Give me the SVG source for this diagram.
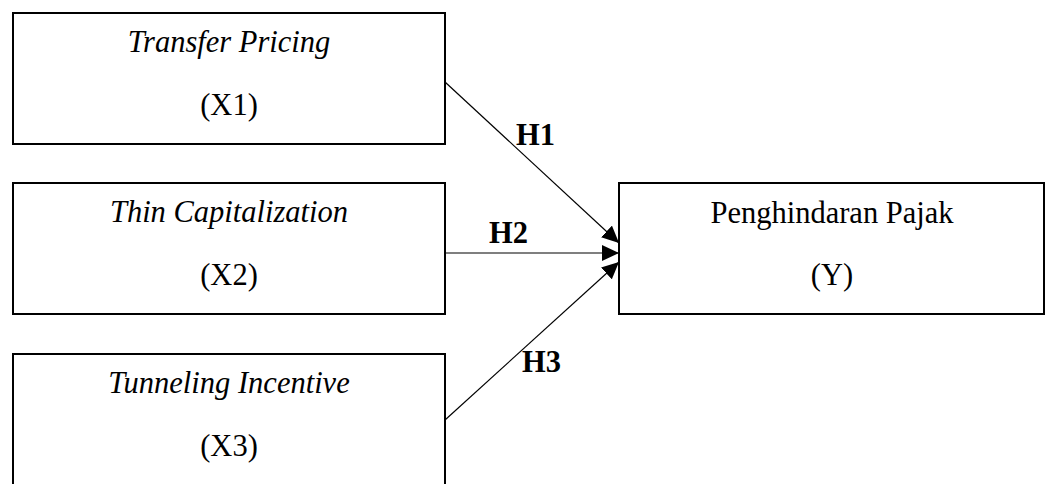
<svg xmlns="http://www.w3.org/2000/svg" width="1045" height="484" viewBox="0 0 1045 484">
<style>
.box{fill:#fff;stroke:#000;stroke-width:2}
.t{font-family:"Liberation Serif","Times New Roman",serif;font-size:30.5px;fill:#000;text-anchor:middle}
.i{font-style:italic}
.h{font-family:"Liberation Serif","Times New Roman",serif;font-size:30.5px;font-weight:bold;fill:#000}
.c{stroke:#000;stroke-width:1.2;fill:none;marker-end:url(#arr)}
</style>
<defs>
<marker id="arr" markerUnits="userSpaceOnUse" markerWidth="18" markerHeight="16" viewBox="0 0 18 16" refX="17" refY="8" orient="auto">
<path d="M0,0 L17,8 L0,16 Z" fill="#000"/>
</marker>
</defs>
<rect width="1045" height="484" fill="#fff"/>
<g id="x1">
<rect class="box" x="13" y="13" width="432" height="131"/>
<text class="t i" x="229" y="52">Transfer Pricing</text>
<text class="t" x="229" y="115">(X1)</text>
</g>
<g id="x2">
<rect class="box" x="13" y="183" width="432" height="131"/>
<text class="t i" x="229" y="222">Thin Capitalization</text>
<text class="t" x="229" y="285">(X2)</text>
</g>
<g id="x3">
<rect class="box" x="13" y="354" width="432" height="134"/>
<text class="t i" x="229" y="393">Tunneling Incentive</text>
<text class="t" x="229" y="456">(X3)</text>
</g>
<g id="y">
<rect class="box" x="619" y="183" width="425" height="131"/>
<text class="t" x="832" y="223">Penghindaran Pajak</text>
<text class="t" x="832" y="285">(Y)</text>
</g>
<g id="connectors">
<line class="c" x1="445" y1="82" x2="619" y2="243"/>
<line class="c" x1="445" y1="253" x2="619" y2="253"/>
<line class="c" x1="445" y1="420" x2="619" y2="262"/>
<text class="h" x="516" y="145">H1</text>
<text class="h" x="489" y="243">H2</text>
<text class="h" x="522" y="372">H3</text>
</g>
</svg>
